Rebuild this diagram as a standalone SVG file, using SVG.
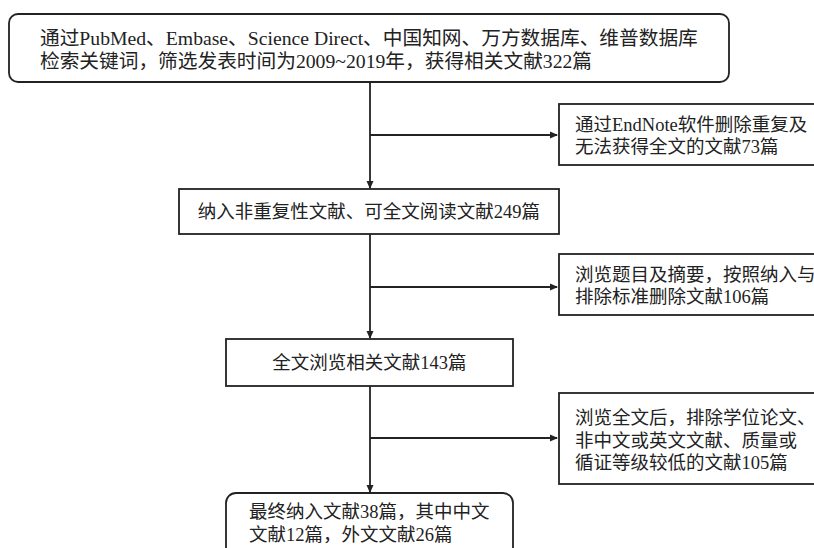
<svg xmlns="http://www.w3.org/2000/svg" width="814" height="548" viewBox="0 0 814 548">
<defs>
<marker id="arr" markerWidth="8" markerHeight="8" refX="7" refY="4" orient="auto" markerUnits="userSpaceOnUse">
<path d="M0,0.5 L8,4 L0,7.5 Z" fill="#222"/>
</marker>
<style>
.box{fill:#fff;stroke:#222;stroke-width:1.8}
.t{font-family:'Liberation Serif','Noto Sans CJK SC',serif;fill:#222;dominant-baseline:central}
.t1{font-size:19.7px}
.t2{font-size:18.5px}
.c{text-anchor:middle}
.ln{fill:none;stroke:#222;stroke-width:1.8}
</style>
</defs>
<rect width="814" height="548" fill="#fff"/>
<g id="connectors">
<line class="ln" x1="370" y1="82" x2="370" y2="188" marker-end="url(#arr)"/>
<line class="ln" x1="370" y1="135" x2="557" y2="135" marker-end="url(#arr)"/>
<line class="ln" x1="370" y1="234" x2="370" y2="338" marker-end="url(#arr)"/>
<line class="ln" x1="370" y1="287" x2="557" y2="287" marker-end="url(#arr)"/>
<line class="ln" x1="370" y1="386" x2="370" y2="492" marker-end="url(#arr)"/>
<line class="ln" x1="370" y1="438" x2="557" y2="438" marker-end="url(#arr)"/>
</g>
<g id="n1">
<rect class="box" x="9" y="14" width="720" height="68" rx="9"/>
<text class="t t1" x="40" y="38">通过PubMed、Embase、Science Direct、中国知网、万方数据库、维普数据库</text>
<text class="t t1" x="40" y="61">检索关键词，筛选发表时间为2009~2019年，获得相关文献322篇</text>
</g>
<g id="n2">
<rect class="box" x="559" y="104" width="260" height="61"/>
<text class="t t2" x="575" y="124.5">通过EndNote软件删除重复及</text>
<text class="t t2" x="575" y="147">无法获得全文的文献73篇</text>
</g>
<g id="n3">
<rect class="box" x="179" y="189" width="380" height="45"/>
<text class="t t2 c" x="369" y="212">纳入非重复性文献、可全文阅读文献249篇</text>
</g>
<g id="n4">
<rect class="box" x="559" y="254" width="260" height="61"/>
<text class="t t2" x="575" y="274.5">浏览题目及摘要，按照纳入与</text>
<text class="t t2" x="575" y="297">排除标准删除文献106篇</text>
</g>
<g id="n5">
<rect class="box" x="226" y="339" width="287" height="47"/>
<text class="t t2 c" x="369.5" y="363">全文浏览相关文献143篇</text>
</g>
<g id="n6">
<rect class="box" x="559" y="393" width="260" height="91"/>
<text class="t t2" x="575" y="418">浏览全文后，排除学位论文、</text>
<text class="t t2" x="575" y="440.5">非中文或英文文献、质量或</text>
<text class="t t2" x="575" y="463">循证等级较低的文献105篇</text>
</g>
<g id="n7">
<rect class="box" x="226" y="493" width="287" height="70" rx="10"/>
<text class="t t2" x="249" y="512">最终纳入文献38篇，其中中文</text>
<text class="t t2" x="249" y="535">文献12篇，外文文献26篇</text>
</g>
</svg>
